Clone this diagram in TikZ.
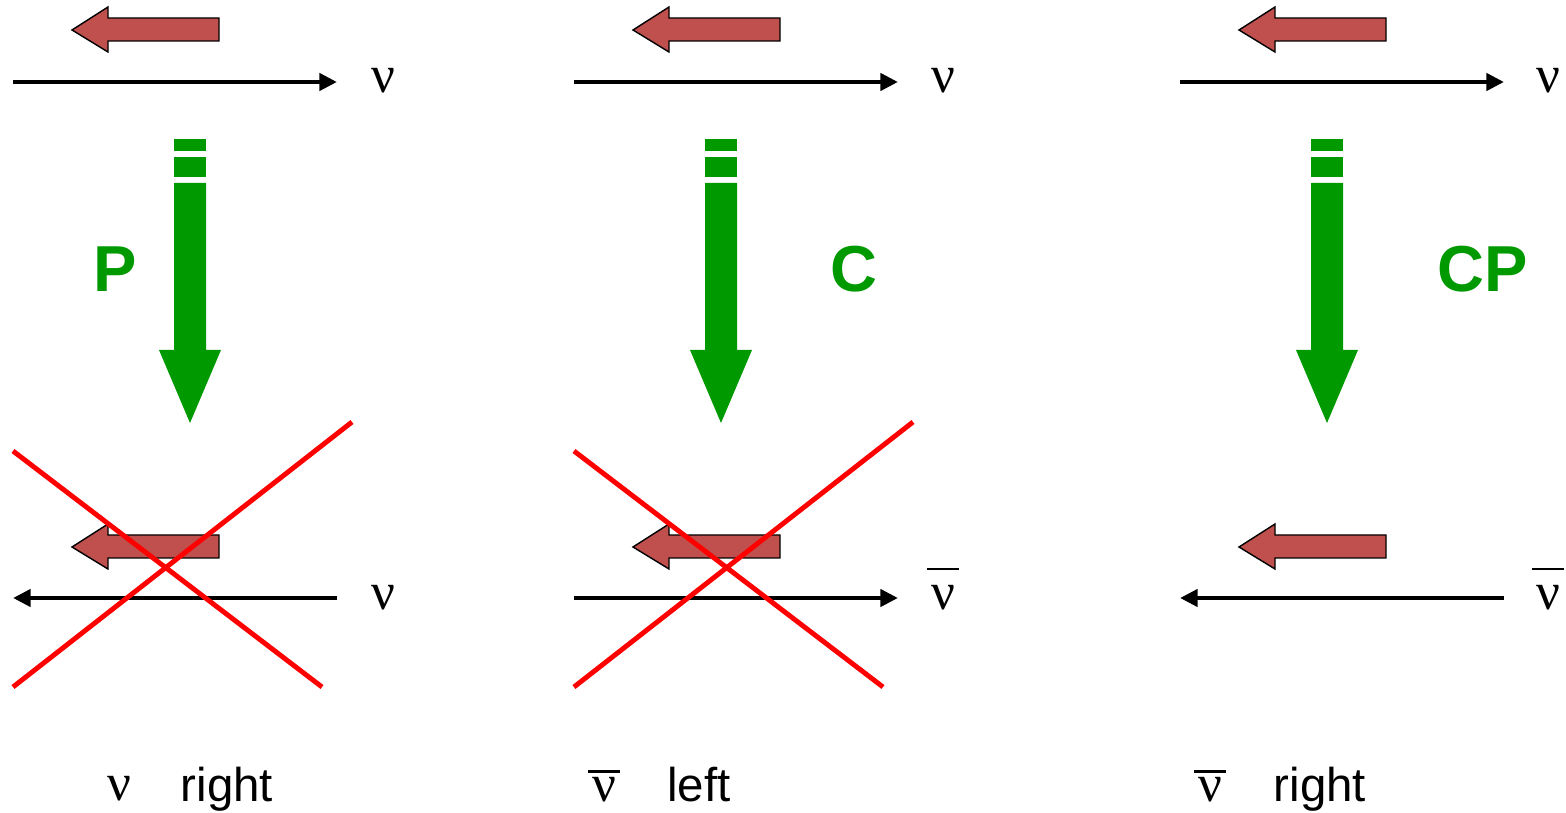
\documentclass[tikz,border=0pt]{standalone}
\usepackage{fontspec}
\setmainfont{Liberation Sans}
\newfontfamily\nufont{Liberation Serif}
\usepackage{tikz}
\usetikzlibrary{arrows.meta}
\definecolor{spinRed}{RGB}{192,80,77}
\definecolor{opGreen}{RGB}{0,153,0}
\newcommand{\nusym}{{\nufont ν}}
\newcommand{\nubarsym}[1]{\vbox{\hrule width 0.6em height 0.04em\kern#1\hbox to 0.6em{\hss\nufont ν\hss}}}

\begin{document}
\begin{tikzpicture}
[x=0.02cm,y=-0.02cm,%
    spinDecorate/.style={fill=spinRed,draw=black,line width=0.8pt,line join=miter},%
    opDecorate/.style={fill=opGreen},%
    lineDecorate/.style={black,line width=2.8pt,-{Triangle[length=10pt,width=9.6pt]}},%
    crossDecorate/.style={red,line width=2.8pt},%
    nuDecorate/.style={anchor=base,inner sep=0pt,font=\fontsize{30}{30}\selectfont},%
    wordDecorate/.style={anchor=base,inner sep=0pt,font=\fontsize{27}{27}\selectfont},%
    opLabelDecorate/.style={anchor=base,inner sep=0pt,text=opGreen,font=\fontsize{37}{37}\selectfont\bfseries}]
    \useasboundingbox (0,0) rectangle (1566,813);
    %% spin arrows
    \foreach \x/\y in {72/30, 633/30, 1239/30, 72/547, 633/547, 1239/547}
    {
        \draw[spinDecorate] (\x,\y) -- ++(36,-23) -- ++(0,11) -- ++(111,0) -- ++(0,23) -- ++(-111,0) -- ++(0,11) -- cycle;
    }
    %% momentum lines
    \foreach \name/\xs/\xe/\y in {pTop/13/337/82, cTop/574/898/82, cpTop/1180/1504/82, pBot/337/13/598, cBot/574/898/598, cpBot/1504/1180/598}
    {
        \coordinate (\name-from) at (\xs,\y);
        \coordinate (\name-to) at (\xe,\y);
        \draw[lineDecorate] (\name-from) -- (\name-to);
    }
    %% particle labels
    \foreach \name/\x/\y in {pTopNu/383/93, cTopNu/943/93, cpTopNu/1548/93, pBotNu/383/610, pHandNu/119/801}
    {
        \node[nuDecorate] (\name) at (\x,\y) {\nusym};
    }
    \foreach \name/\x/\y/\gap in {cBotNu/943/610/0.3em, cpBotNu/1548/610/0.3em, cHandNu/604/802/0.1em, cpHandNu/1210/802/0.1em}
    {
        \node[nuDecorate] (\name) at (\x,\y) {\nubarsym{\gap}};
    }
    %% helicity words
    \foreach \name/\x/\txt in {pHand/227/right, cHand/699/left, cpHand/1320/right}
    {
        \node[wordDecorate] (\name) at (\x,802) {\txt};
    }
    %% operation arrows
    \foreach \c in {190, 721, 1327}
    {
        \fill[opDecorate] (\c-16,139) rectangle (\c+16,151);
        \fill[opDecorate] (\c-16,157) rectangle (\c+16,177);
        \fill[opDecorate] (\c-16,183) -- (\c+16,183) -- (\c+16,350) -- (\c+31,350) -- (\c,423) -- (\c-31,350) -- (\c-16,350) -- cycle;
    }
    \foreach \name/\x/\txt in {opP/115/P, opC/854/C, opCP/1483/CP}
    {
        \node[opLabelDecorate] (\name) at (\x,292) {\txt};
    }
    %% forbidden states
    \foreach \dx in {0, 561}
    {
        \draw[crossDecorate] (13+\dx,451) -- (322+\dx,687);
        \draw[crossDecorate] (13+\dx,687) -- (352+\dx,422);
    }
\end{tikzpicture}
\end{document}
